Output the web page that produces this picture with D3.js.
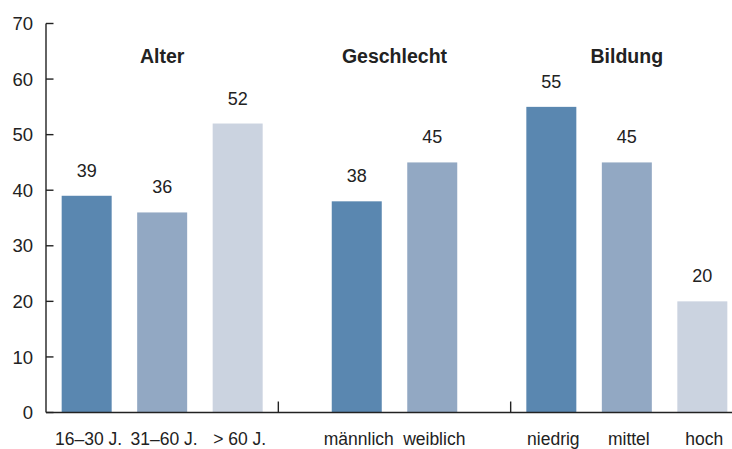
<!DOCTYPE html>
<html>
<head>
<meta charset="utf-8">
<script src="https://cdn.jsdelivr.net/npm/d3@7"></script>
<style>
  html, body { margin: 0; padding: 0; background: #fff; }
  svg { display: block; font-family: "Liberation Sans", Arial, Helvetica, sans-serif; }
</style>
</head>
<body>
<svg id="chart" width="732" height="449"></svg>
<script>
// Survey shares (%) broken down by age, sex and education
const groups = ["Alter", "Geschlecht", "Bildung"];
const alterCategories = ["16–30 J.", "31–60 J.", "> 60 J."];
const alterValues = [39, 36, 52];
const geschlechtCategories = ["männlich", "weiblich"];
const geschlechtValues = [38, 45];
const bildungCategories = ["niedrig", "mittel", "hoch"];
const bildungValues = [55, 45, 20];
const yTicks = [0, 10, 20, 30, 40, 50, 60, 70];

const shades = ["#5a87b0", "#92a8c3", "#cbd3e0"];
const ink = "#222";

const groupData = [
  { name: groups[0], cats: alterCategories, vals: alterValues },
  { name: groups[1], cats: geschlechtCategories, vals: geschlechtValues },
  { name: groups[2], cats: bildungCategories, vals: bildungValues }
];

const svg = d3.select("#chart");
const axisX = 46;
const baseY = 412.5;

const y = d3.scaleLinear().domain([0, 70]).range([baseY, 23.5]);
const gx = d3.scaleBand().domain(groups).range([axisX, 743]).padding(0);

const step = 75.5;
const padIn = 25.5 / 75.5;

// y axis: vertical line with short inward ticks
const yAxis = svg.append("g");
yAxis.append("line")
  .attr("x1", axisX).attr("x2", axisX)
  .attr("y1", y(70)).attr("y2", baseY)
  .attr("stroke", ink).attr("stroke-width", 1.4);
yAxis.selectAll("line.tick").data(yTicks).join("line")
  .attr("class", "tick")
  .attr("x1", axisX).attr("x2", axisX + 7.5)
  .attr("y1", d => y(d)).attr("y2", d => y(d))
  .attr("stroke", ink).attr("stroke-width", 1.4);
yAxis.selectAll("text").data(yTicks).join("text")
  .attr("x", 33).attr("y", d => y(d))
  .attr("dy", "0.36em")
  .attr("text-anchor", "end")
  .attr("font-size", 18.5)
  .attr("fill", ink)
  .text(d => d);

groupData.forEach((g, gi) => {
  const cx = gx(g.name) + gx.bandwidth() / 2;
  const n = g.cats.length;
  const x = d3.scaleBand()
    .domain(g.cats)
    .range([cx - n * step / 2, cx + n * step / 2])
    .paddingInner(padIn)
    .paddingOuter(padIn / 2);

  const layer = svg.append("g");

  layer.selectAll("rect").data(g.cats).join("rect")
    .attr("x", d => x(d))
    .attr("width", x.bandwidth())
    .attr("y", (d, i) => y(g.vals[i]))
    .attr("height", (d, i) => baseY - y(g.vals[i]))
    .attr("fill", (d, i) => shades[i]);

  layer.selectAll("text.val").data(g.cats).join("text")
    .attr("class", "val")
    .attr("x", d => x(d) + x.bandwidth() / 2)
    .attr("y", (d, i) => y(g.vals[i]) - 19)
    .attr("text-anchor", "middle")
    .attr("font-size", 18)
    .attr("fill", ink)
    .text((d, i) => g.vals[i]);

  layer.selectAll("text.cat").data(g.cats).join("text")
    .attr("class", "cat")
    .attr("x", d => x(d) + x.bandwidth() / 2 + 2)
    .attr("y", 445)
    .attr("text-anchor", "middle")
    .attr("font-size", 17.5)
    .attr("fill", ink)
    .text(d => d);

  layer.append("text")
    .attr("x", cx)
    .attr("y", 63)
    .attr("text-anchor", "middle")
    .attr("font-size", 19.5)
    .attr("font-weight", "bold")
    .attr("fill", ink)
    .text(g.name);

  // separator tick between groups
  if (gi > 0) {
    svg.append("line")
      .attr("x1", gx(g.name)).attr("x2", gx(g.name))
      .attr("y1", baseY).attr("y2", baseY - 11)
      .attr("stroke", ink).attr("stroke-width", 1.4);
  }
});

// baseline drawn over the bars
svg.append("line")
  .attr("x1", axisX).attr("x2", 732)
  .attr("y1", baseY).attr("y2", baseY)
  .attr("stroke", ink).attr("stroke-width", 1.6);
</script>
</body>
</html>
